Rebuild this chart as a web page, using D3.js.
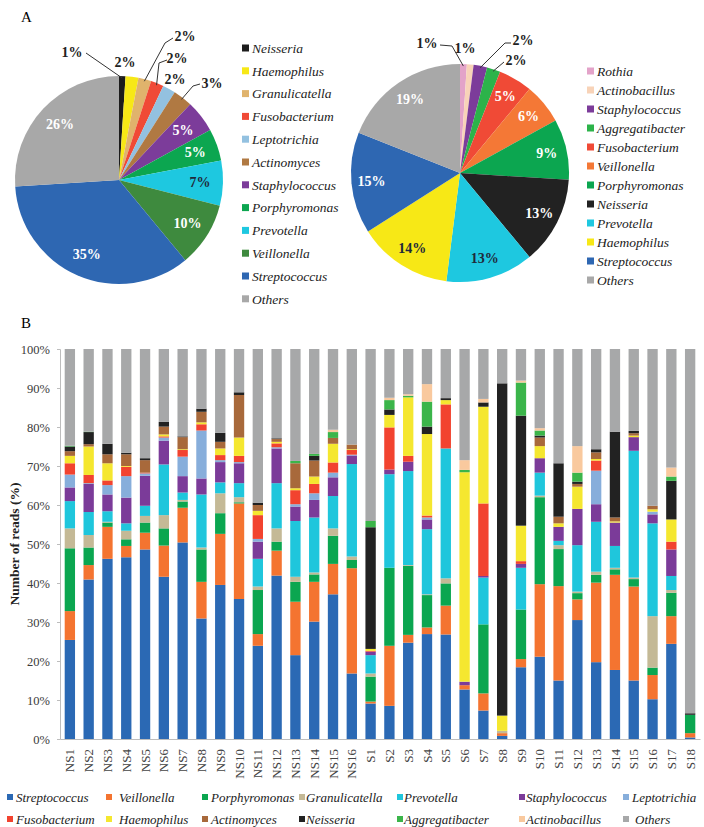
<!DOCTYPE html>
<html>
<head>
<meta charset="utf-8">
<script src="https://cdn.jsdelivr.net/npm/d3@7"></script>
<style>
  body { margin: 0; background: #fff; }
  svg text { font-family: "Liberation Serif", "Times New Roman", serif; }
</style>
</head>
<body>
<div id="chart"></div>
<script>
// ---- pie data ----
const pieNsNames = ['Neisseria', 'Haemophilus', 'Granulicatella', 'Fusobacterium', 'Leptotrichia', 'Actinomyces',
    'Staphylococcus', 'Porphyromonas', 'Prevotella', 'Veillonella', 'Streptococcus', 'Others'];
const pieNsValues = [1, 2, 2, 2, 2, 3, 5, 5, 7, 10, 35, 26];

const pieSNames = ['Rothia', 'Actinobacillus', 'Staphylococcus', 'Aggregatibacter', 'Fusobacterium', 'Veillonella',
    'Porphyromonas', 'Neisseria', 'Prevotella', 'Haemophilus', 'Streptococcus', 'Others'];
const pieSValues = [1, 1, 2, 2, 5, 6, 9, 13, 13, 14, 15, 19];

// ---- bar data (% of reads per sample) ----
const samples = ['NS1', 'NS2', 'NS3', 'NS4', 'NS5', 'NS6', 'NS7', 'NS8', 'NS9', 'NS10', 'NS11', 'NS12', 'NS13', 'NS14', 'NS15', 'NS16',
    'S1', 'S2', 'S3', 'S4', 'S5', 'S6', 'S7', 'S8', 'S9', 'S10', 'S11', 'S12', 'S13', 'S14', 'S15', 'S16', 'S17', 'S18'];

const streptococcus = [25.4, 40.9, 46.2, 46.6, 48.6, 41.6, 50.4, 30.9, 39.5, 35.9, 23.9, 41.9, 21.5, 30.1, 37.1, 16.8,
    9.1, 8.5, 24.7, 26.9, 26.8, 12.7, 7.3, 0.8, 18.4, 21.1, 15.0, 30.5, 19.7, 17.7, 15.0, 10.2, 24.4, 0.4];
const veillonella = [7.4, 3.7, 8.2, 2.9, 4.3, 8.0, 8.9, 9.4, 13.1, 24.5, 3.0, 6.4, 13.7, 10.2, 7.8, 27.0,
    0.5, 15.4, 2.0, 1.7, 7.4, 1.1, 4.4, 0.7, 2.1, 18.6, 24.2, 5.3, 20.4, 24.4, 24.1, 6.2, 7.1, 1.1];
const porphyromonas = [16.1, 4.5, 1.1, 1.7, 2.6, 4.4, 1.6, 8.3, 5.3, 0.3, 11.3, 2.3, 5.1, 1.9, 7.2, 2.1,
    6.4, 20.0, 17.7, 8.3, 5.7, 0, 17.7, 0, 12.7, 22.3, 9.5, 1.6, 2.0, 1.4, 1.9, 1.9, 6.0, 4.7];
const granulicatella = [5.1, 3.2, 0.2, 2.2, 1.7, 3.4, 0.4, 0.5, 5.1, 1.3, 0.9, 3.4, 1.3, 0.5, 1.9, 0.9,
    0.8, 0, 0.2, 0.2, 1.3, 0, 0, 0.6, 0, 0.4, 1.0, 0.4, 0.8, 0.4, 0.4, 13.2, 0.7, 0];
const prevotella = [7.0, 5.9, 2.7, 1.9, 2.6, 13.0, 1.9, 13.6, 2.8, 3.6, 7.1, 11.6, 14.3, 14.1, 8.3, 23.7,
    4.7, 24.0, 24.1, 16.7, 33.3, 0, 12.0, 0, 10.7, 5.9, 1.1, 11.9, 12.8, 5.6, 32.5, 23.8, 3.6, 0];
const staphylococcus = [3.5, 7.2, 4.3, 6.6, 7.7, 6.1, 4.2, 4.1, 5.2, 5.1, 4.4, 8.9, 3.7, 4.5, 4.8, 2.2,
    0.9, 1.2, 2.4, 2.5, 0, 0.9, 0.4, 0, 1.0, 3.7, 3.6, 9.3, 4.5, 6.0, 3.5, 2.3, 6.8, 0];
const leptotrichia = [3.3, 0.2, 2.4, 5.5, 0.6, 0.8, 5.0, 12.3, 0.5, 0.3, 0.7, 0.3, 0.6, 1.7, 1.2, 0.2,
    0, 0, 0, 0.5, 0, 0, 0, 0, 0, 0, 0, 0, 8.6, 0, 0, 0.7, 0, 0];
const fusobacterium = [2.9, 2.1, 1.2, 2.4, 0.2, 0.3, 1.7, 1.6, 1.3, 1.6, 6.1, 1.0, 3.6, 2.4, 2.6, 1.2,
    0.2, 10.8, 1.5, 0.5, 11.3, 0, 18.6, 0, 0.7, 0, 0, 0, 2.6, 0, 0, 0, 2.0, 0];
const haemophilus = [1.9, 7.3, 4.4, 0.2, 0, 0.5, 0.2, 0.5, 1.7, 4.7, 1.1, 0.4, 0.5, 1.9, 4.8, 0.2,
    0.5, 3.2, 15.0, 20.9, 1.1, 53.7, 24.8, 3.9, 9.1, 3.1, 0.9, 5.7, 0.4, 0.3, 0.4, 0.6, 5.7, 0];
const actinomyces = [1.2, 0.6, 2.3, 3.0, 3.2, 2.0, 3.1, 2.7, 1.7, 10.9, 1.5, 0.7, 6.4, 4.1, 1.5, 1.2,
    0, 0, 0, 0, 0, 0, 0, 0, 0, 2.2, 1.7, 0.7, 1.7, 1.0, 0.6, 0.9, 0, 0];
const neisseria = [1.2, 3.1, 2.7, 0.4, 0.5, 1.2, 0.2, 0.8, 2.3, 0.7, 0.6, 0.2, 0, 1.2, 0, 0,
    31.2, 1.4, 0, 1.9, 0.5, 0, 1.1, 85.2, 28.2, 0.5, 13.7, 0.6, 0.8, 22.0, 0.6, 0, 9.9, 0.4];
const aggregatibacter = [0.2, 0.1, 0, 0, 0, 0, 0, 0, 0, 0, 0, 0, 0.6, 0.5, 1.5, 0,
    1.6, 2.4, 0.4, 6.4, 0, 0.6, 0, 0, 8.5, 1.3, 0, 2.3, 0, 0, 0, 0, 1.1, 0];
const actinobacillus = [0, 0, 0, 0, 0, 0, 0, 0, 0, 0, 0, 0, 0, 0, 0.6, 0,
    0, 0.6, 0.4, 4.5, 0, 2.5, 0.9, 0, 0.5, 0.6, 0, 6.8, 0, 0, 0, 0, 2.3, 0];
const others = [24.8, 21.2, 24.3, 26.6, 28.0, 18.7, 22.4, 15.3, 21.5, 11.1, 39.4, 22.9, 28.7, 26.9, 20.7, 24.5,
    44.1, 12.5, 11.6, 9.0, 12.6, 28.5, 12.8, 8.8, 8.1, 20.3, 29.3, 24.9, 25.7, 21.2, 21.0, 40.2, 30.4, 93.4];

const yTicks = [0, 10, 20, 30, 40, 50, 60, 70, 80, 90, 100];

// stack order, bottom to top
const keys = ['Streptococcus', 'Veillonella', 'Porphyromonas', 'Granulicatella', 'Prevotella', 'Staphylococcus', 'Leptotrichia',
    'Fusobacterium', 'Haemophilus', 'Actinomyces', 'Neisseria', 'Aggregatibacter', 'Actinobacillus', 'Others'];
const series = [streptococcus, veillonella, porphyromonas, granulicatella, prevotella, staphylococcus, leptotrichia,
    fusobacterium, haemophilus, actinomyces, neisseria, aggregatibacter, actinobacillus, others];

// colours
const barColor = d3.scaleOrdinal()
    .domain(keys)
    .range(['#2b69b4', '#f47430', '#0ba650', '#c4b996', '#1fc6dc', '#7b3b99', '#87aedb',
        '#f2432f', '#f5e72f', '#a8693b', '#222222', '#3bb54a', '#f9c99e', '#a7a8a9']);

const pieNsColors = ['#1c1c1c', '#f7e816', '#e0b36c', '#f04a36', '#93c1e0', '#b07942',
    '#7c3c9a', '#0ca650', '#1ec8e0', '#3e8a3e', '#2e67b2', '#a8a8a8'];
const pieSColors = ['#e3a3c9', '#f8d3b8', '#7c3c9a', '#2cb34a', '#f04a36', '#f47836',
    '#0ca650', '#222222', '#1ec8e0', '#f7e816', '#2e67b2', '#a8a8a8'];

const svg = d3.select('#chart')
    .append('svg')
    .attr('width', 704)
    .attr('height', 827);

svg.append('text').attr('x', 21).attr('y', 22).attr('font-size', 15).text('A');
svg.append('text').attr('x', 21).attr('y', 328).attr('font-size', 15).text('B');

// ---- pies ----
function drawPie(names, values, colors, opt) {
    const g = svg.append('g').attr('transform', 'translate(' + opt.cx + ',' + opt.cy + ')');
    const arcs = d3.pie().sort(null)(values);
    const arc = d3.arc().innerRadius(0).outerRadius(opt.r);
    const labelArc = d3.arc().innerRadius(opt.labelR).outerRadius(opt.labelR);
    const edgeArc = d3.arc().innerRadius(opt.r - 2).outerRadius(opt.r - 2);

    g.selectAll('path.slice')
        .data(arcs)
        .enter()
        .append('path')
        .attr('class', 'slice')
        .attr('d', arc)
        .attr('fill', (d, i) => colors[i]);

    // labels inside
    g.selectAll('text.inlabel')
        .data(arcs.filter((d, i) => i >= opt.outside.length))
        .enter()
        .append('text')
        .attr('class', 'inlabel')
        .attr('transform', d => 'translate(' + labelArc.centroid(d) + ')')
        .attr('text-anchor', 'middle')
        .attr('dy', '0.35em')
        .attr('font-size', 14)
        .attr('font-weight', 'bold')
        .attr('fill', d => opt.dark.includes(d.index) ? '#202a3a' : '#fff')
        .text(d => d.value + '%');

    // small slices: labels outside, some with leader lines
    opt.outside.forEach((o, i) => {
        const d = arcs[i];
        if (o.line) {
            const pts = o.line.concat([edgeArc.centroid(d)]);
            g.append('path')
                .attr('d', d3.line()(pts))
                .attr('fill', 'none')
                .attr('stroke', '#333')
                .attr('stroke-width', 1);
        }
        g.append('text')
            .attr('x', o.tx)
            .attr('y', o.ty)
            .attr('text-anchor', 'middle')
            .attr('dy', '0.35em')
            .attr('font-size', 14)
            .attr('font-weight', 'bold')
            .attr('fill', '#222')
            .text(d.value + '%');
    });

    // legend
    const lg = svg.append('g');
    names.forEach((n, i) => {
        const y = opt.legY + i * opt.legStep;
        lg.append('rect')
            .attr('x', opt.legX).attr('y', y - 3.5)
            .attr('width', 7).attr('height', 7)
            .attr('fill', colors[i]);
        lg.append('text')
            .attr('x', opt.legX + 10).attr('y', y)
            .attr('dy', '0.35em')
            .attr('font-size', 13.5)
            .attr('font-style', 'italic')
            .attr('fill', '#222')
            .text(n);
    });
}

drawPie(pieNsNames, pieNsValues, pieNsColors, {
    cx: 119, cy: 180, r: 104, labelR: 81, dark: [8],
    outside: [
        { tx: -47, ty: -128, line: [[-33, -127]] },
        { tx: 6, ty: -118 },
        { tx: 66, ty: -144, line: [[54, -142], [46, -137]] },
        { tx: 58, ty: -122, line: [[48, -120], [40, -117]] },
        { tx: 56, ty: -101 },
        { tx: 93, ty: -97, line: [[81, -96], [74, -94]] }
    ],
    legX: 242, legY: 48, legStep: 22.8
});

drawPie(pieSNames, pieSValues, pieSColors, {
    cx: 460, cy: 173, r: 109, labelR: 89, dark: [8, 9],
    outside: [
        { tx: -33, ty: -130, line: [[-20, -128], [-8, -127]] },
        { tx: 5, ty: -125 },
        { tx: 63, ty: -133, line: [[51, -130], [45, -130]] },
        { tx: 56, ty: -113, line: [[44, -111]] }
    ],
    legX: 587, legY: 71, legStep: 19
});

// ---- stacked bars ----
const margin = { top: 349, left: 60 },
    innerWidth = 640,
    innerHeight = 390;

const chart = svg.append('g')
    .attr('transform', 'translate(' + margin.left + ',' + margin.top + ')');

const table = samples.map((s, i) => {
    const row = { sample: s };
    keys.forEach((k, j) => { row[k] = series[j][i]; });
    return row;
});

const stackedData = d3.stack().keys(keys)(table);

const xScale = d3.scaleBand()
    .domain(samples)
    .range([0, innerWidth])
    .paddingInner(0.45)
    .paddingOuter(0.25);

const yScale = d3.scaleLinear()
    .domain([0, 100])
    .range([innerHeight, 0]);

const yAxisG = chart.append('g')
    .call(d3.axisLeft(yScale)
        .tickValues(yTicks)
        .tickSize(3)
        .tickPadding(7)
        .tickFormat(d => d + '%'));
yAxisG.select('.domain').attr('stroke', '#bdbdbd');
yAxisG.selectAll('.tick line').attr('stroke', '#bdbdbd');
yAxisG.selectAll('.tick text')
    .attr('font-size', 12.5)
    .attr('fill', '#3a3a3a')
    .style('font-family', '"Liberation Serif", serif');

const xAxisG = chart.append('g')
    .attr('transform', 'translate(0,' + innerHeight + ')')
    .call(d3.axisBottom(xScale).tickSize(0).tickPadding(0));
xAxisG.select('.domain').attr('stroke', '#bdbdbd');
xAxisG.selectAll('.tick text')
    .attr('font-size', 13)
    .attr('fill', '#444')
    .style('font-family', '"Liberation Serif", serif')
    .attr('text-anchor', 'end')
    .attr('transform', 'translate(0,10) rotate(-90)')
    .attr('x', 0)
    .attr('y', 0)
    .attr('dy', '0.35em');

chart.append('g')
    .selectAll('g')
    .data(stackedData)
    .enter()
    .append('g')
    .attr('fill', d => barColor(d.key))
    .selectAll('rect')
    .data(d => d)
    .enter()
    .append('rect')
    .attr('x', d => xScale(d.data.sample))
    .attr('y', d => yScale(d[1]))
    .attr('width', xScale.bandwidth())
    .attr('height', d => yScale(d[0]) - yScale(d[1]));

svg.append('text')
    .attr('transform', 'translate(14,544) rotate(-90)')
    .attr('text-anchor', 'middle')
    .attr('dy', '0.35em')
    .attr('font-size', 13.5)
    .attr('font-weight', 'bold')
    .attr('fill', '#222')
    .text('Number of reads (%)');

// ---- bottom legend ----
const legSquareX = [7, 106, 202, 299, 397, 519, 623];
const legTextX = [16, 119, 211, 306, 404, 526, 632];
const legend = svg.append('g');
keys.forEach((k, i) => {
    const col = i % 7, rowY = i < 7 ? 797 : 819;
    legend.append('rect')
        .attr('x', legSquareX[col]).attr('y', rowY - 3)
        .attr('width', 6).attr('height', 6)
        .attr('fill', barColor(k));
    legend.append('text')
        .attr('x', legTextX[col] + (i === 13 ? 3 : 0)).attr('y', rowY)
        .attr('dy', '0.35em')
        .attr('font-size', 13)
        .attr('font-style', 'italic')
        .attr('fill', '#222')
        .text(k);
});
</script>
</body>
</html>
